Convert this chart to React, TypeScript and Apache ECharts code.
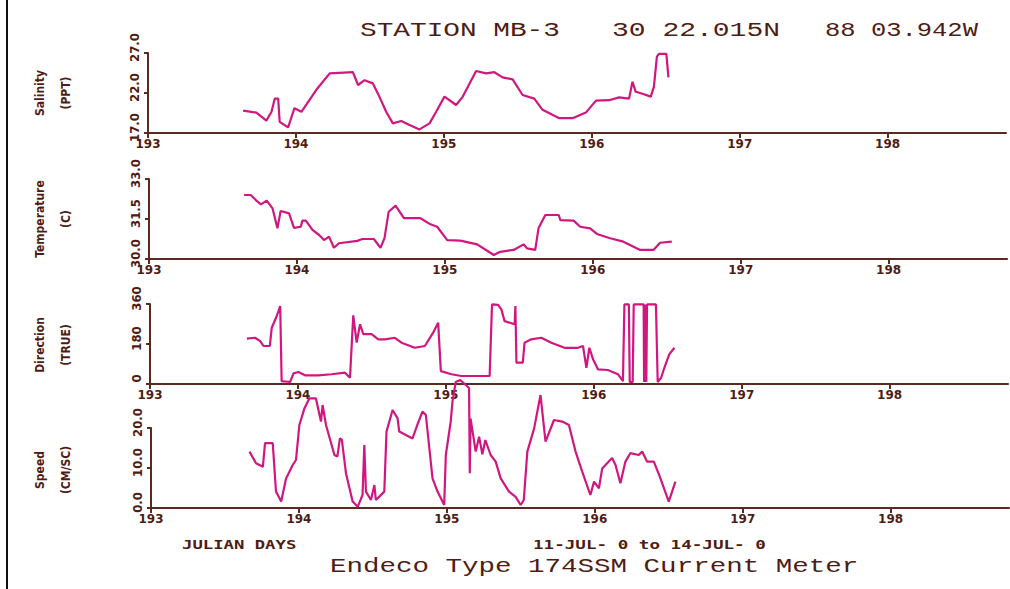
import React, { useEffect, useRef } from "react";
import * as echarts from "echarts";

// ---------- data ----------
const xTickValues = [193, 194, 195, 196, 197, 198];

const salinityTicks = [17, 22, 27];
const temperatureTicks = [30, 31.5, 33];
const directionTicks = [0, 180, 360];
const speedTicks = [0, 10, 20];

const salinityData: [number, number][] = [
  [193.643, 19.8], [193.733, 19.55], [193.8, 18.55], [193.835, 19.65], [193.857, 21.3],
  [193.88, 21.3], [193.89, 18.4], [193.947, 17.7], [193.99, 20.1], [194.037, 19.65],
  [194.138, 22.4], [194.228, 24.45], [194.385, 24.6], [194.42, 23.0], [194.464, 23.6],
  [194.52, 23.2], [194.554, 21.95], [194.61, 19.65], [194.655, 18.2], [194.712, 18.5],
  [194.768, 18.0], [194.835, 17.45], [194.903, 18.2], [194.948, 19.65], [195.004, 21.55],
  [195.083, 20.5], [195.128, 21.55], [195.218, 24.75], [195.286, 24.45], [195.341, 24.6],
  [195.397, 23.95], [195.465, 23.7], [195.532, 21.75], [195.611, 21.3], [195.667, 19.9],
  [195.78, 18.85], [195.87, 18.85], [195.96, 19.55], [196.028, 21.05], [196.117, 21.1],
  [196.185, 21.45], [196.252, 21.3], [196.275, 23.4], [196.297, 22.15], [196.342, 21.9],
  [196.399, 21.55], [196.42, 22.8], [196.44, 26.55], [196.455, 26.9], [196.504, 26.9],
  [196.518, 23.95],
];

const temperatureData: [number, number][] = [
  [193.643, 32.4], [193.688, 32.4], [193.722, 32.21], [193.756, 32.05], [193.796, 32.19],
  [193.835, 31.9], [193.868, 31.15], [193.89, 31.8], [193.947, 31.71], [193.98, 31.17],
  [194.026, 31.21], [194.037, 31.44], [194.06, 31.44], [194.105, 31.09], [194.15, 30.9],
  [194.183, 30.71], [194.217, 30.84], [194.25, 30.42], [194.284, 30.59], [194.408, 30.68],
  [194.442, 30.75], [194.52, 30.75], [194.565, 30.42], [194.592, 30.78], [194.62, 31.77],
  [194.667, 32.0], [194.723, 31.53], [194.835, 31.53], [194.903, 31.3], [194.948, 31.21],
  [195.016, 30.71], [195.105, 30.69], [195.218, 30.55], [195.286, 30.31], [195.33, 30.15],
  [195.375, 30.27], [195.465, 30.34], [195.532, 30.55], [195.555, 30.4], [195.611, 30.34],
  [195.633, 31.15], [195.679, 31.65], [195.77, 31.65], [195.78, 31.46], [195.87, 31.44],
  [195.915, 31.21], [195.982, 31.15], [196.028, 30.94], [196.117, 30.78], [196.207, 30.65],
  [196.32, 30.34], [196.41, 30.34], [196.455, 30.61], [196.534, 30.65],
];

const directionData: [number, number][] = [
  [193.655, 204], [193.71, 208], [193.745, 193], [193.767, 171], [193.81, 171],
  [193.823, 253], [193.857, 306], [193.88, 351], [193.89, 13], [193.947, 9],
  [193.97, 48], [194.003, 54], [194.048, 39], [194.138, 39], [194.228, 44],
  [194.318, 51], [194.352, 28], [194.374, 309], [194.397, 186], [194.42, 269],
  [194.442, 224], [194.498, 224], [194.543, 201], [194.588, 201], [194.655, 208],
  [194.7, 186], [194.79, 163], [194.858, 171], [194.914, 231], [194.948, 276],
  [194.966, 58], [195.038, 44], [195.105, 36], [195.195, 36], [195.296, 36],
  [195.312, 358], [195.353, 356], [195.375, 336], [195.397, 283], [195.465, 269],
  [195.47, 351], [195.477, 96], [195.52, 96], [195.532, 186], [195.577, 201],
  [195.645, 208], [195.713, 186], [195.802, 163], [195.893, 163], [195.927, 171],
  [195.95, 73], [195.97, 163], [195.995, 111], [196.028, 66], [196.095, 63],
  [196.163, 44], [196.197, 13], [196.207, 358], [196.237, 358], [196.243, 9],
  [196.263, 9], [196.27, 358], [196.337, 358], [196.34, 9], [196.35, 358],
  [196.355, 9], [196.36, 358], [196.42, 358], [196.432, 9], [196.455, 28],
  [196.477, 73], [196.51, 133], [196.545, 163],
];

const speedData: [number, number][] = [
  [193.666, 14.1], [193.71, 11.2], [193.756, 10.3], [193.771, 16.2], [193.823, 16.2],
  [193.845, 4.1], [193.88, 1.6], [193.913, 7.4], [193.958, 10.75], [193.98, 12.0],
  [194.003, 20.75], [194.037, 24.9], [194.07, 27.4], [194.115, 27.4], [194.149, 21.6],
  [194.16, 25.75], [194.183, 20.75], [194.24, 13.25], [194.26, 12.9], [194.277, 17.4],
  [194.29, 17.1], [194.318, 8.7], [194.363, 1.6], [194.397, 0.3], [194.43, 3.25],
  [194.442, 15.75], [194.453, 4.1], [194.487, 2.0], [194.51, 5.75], [194.52, 2.0],
  [194.577, 4.1], [194.592, 19.1], [194.633, 24.5], [194.667, 22.4], [194.678, 19.1],
  [194.723, 18.25], [194.768, 17.4], [194.8, 20.75], [194.835, 24.1], [194.858, 23.25],
  [194.903, 7.4], [194.937, 4.1], [194.982, 0.75], [194.993, 13.25], [195.026, 21.6],
  [195.038, 26.6], [195.06, 31.5], [195.09, 32.0], [195.128, 30.75], [195.15, 30.0],
  [195.155, 8.7], [195.16, 22.4], [195.195, 14.1], [195.218, 17.8], [195.24, 13.4],
  [195.26, 17.0], [195.296, 13.25], [195.33, 11.6], [195.364, 7.4], [195.42, 4.1],
  [195.465, 2.8], [195.499, 0.75], [195.52, 2.0], [195.544, 14.1], [195.59, 19.9],
  [195.633, 28.25], [195.667, 16.6], [195.724, 22.0], [195.78, 21.6], [195.825, 20.75],
  [195.87, 14.1], [195.915, 9.1], [195.97, 3.25], [195.995, 6.6], [196.028, 4.9],
  [196.05, 9.9], [196.117, 12.5], [196.14, 10.75], [196.173, 6.2], [196.207, 11.6],
  [196.24, 13.7], [196.297, 13.25], [196.32, 14.1], [196.353, 11.6], [196.399, 11.6],
  [196.44, 7.8], [196.5, 1.6], [196.545, 6.6],
];

// ---------- styles ----------
const LINE = "#d1177f";
const AXIS = "#5a2a1e";
const TEXT = "#4e1c14";
const MONO = "'DejaVu Sans Mono', monospace";
const THIN_MONO = "'Liberation Mono', 'DejaVu Sans Mono', monospace";
const NARROW = "'Liberation Sans Narrow', 'DejaVu Sans Condensed', sans-serif";

const panels = [
  { left: 148, top: 53, ticks: salinityTicks, min: 17, max: 27, fmt: (v: number) => v.toFixed(1), data: salinityData, names: ["Salinity", "(PPT)"], clip: true },
  { left: 149, top: 179, ticks: temperatureTicks, min: 30, max: 33, fmt: (v: number) => v.toFixed(1), data: temperatureData, names: ["Temperature", "(C)"], clip: true },
  { left: 150, top: 304, ticks: directionTicks, min: 0, max: 360, fmt: (v: number) => String(Math.round(v)), data: directionData, names: ["Direction", "(TRUE)"], clip: true },
  { left: 151, top: 428, ticks: speedTicks, min: 0, max: 20, fmt: (v: number) => v.toFixed(1), data: speedData, names: ["Speed", "(CM/SC)"], clip: false },
];

function stretched(text: string, left: number, right: number, cy: number, size: number, bold: boolean) {
  const natural = text.length * 0.6 * size;
  return {
    type: "text",
    x: left,
    y: cy,
    scaleX: (right - left) / natural,
    style: {
      text,
      fill: TEXT,
      font: bold ? `bold ${size}px ${MONO}` : `${size}px ${THIN_MONO}`,
      textAlign: "left",
      textVerticalAlign: "middle",
    },
  };
}

export default function App() {
  const ref = useRef<HTMLDivElement>(null);
  useEffect(() => {
    if (!ref.current) return;
    const chart = echarts.init(ref.current, undefined, { renderer: "svg" });
    const grids = panels.map((p) => ({ left: p.left, top: p.top, width: 858, height: 80 }));
    const xAxes = panels.map((p, i) => ({
      type: "value",
      gridIndex: i,
      min: 193,
      max: 198.8,
      axisLine: { show: true, onZero: false, lineStyle: { color: AXIS, width: 2 } },
      axisTick: { show: true, customValues: xTickValues, length: 5, lineStyle: { color: AXIS, width: 2 } },
      axisLabel: {
        customValues: xTickValues,
        margin: 5,
        color: TEXT,
        fontFamily: "'DejaVu Sans', sans-serif",
        fontWeight: "bold",
        fontSize: 12,
        formatter: (v: number) => String(Math.round(v)),
      },
      splitLine: { show: false },
    }));
    const yAxes = panels.map((p, i) => ({
      type: "value",
      gridIndex: i,
      min: p.min,
      max: p.max,
      axisLine: { show: true, onZero: false, lineStyle: { color: AXIS, width: 2 } },
      axisTick: { show: true, customValues: p.ticks, length: 4, lineStyle: { color: AXIS, width: 2 } },
      axisLabel: {
        customValues: p.ticks,
        rotate: 90,
        margin: 7,
        color: TEXT,
        fontFamily: NARROW,
        fontWeight: "bold",
        fontSize: 13,
        padding: [0, 0, 0, 11],
        formatter: p.fmt,
      },
      splitLine: { show: false },
    }));
    const series = panels.map((p, i) => ({
      type: "line",
      xAxisIndex: i,
      yAxisIndex: i,
      data: p.data,
      showSymbol: false,
      clip: p.clip,
      lineStyle: { color: LINE, width: 2.2 },
      itemStyle: { color: LINE },
    }));
    const nameCenters = [93, 219, 345, 470];
    const graphics: any[] = [
      { type: "line", shape: { x1: 7, y1: 0, x2: 7, y2: 589 }, style: { stroke: "#111", lineWidth: 2 } },
      stretched("STATION MB-3", 360, 560, 31, 20, false),
      stretched("30 22.015N", 612, 780, 31, 20, false),
      stretched("88 03.942W", 825, 978, 31, 20, false),
      stretched("JULIAN DAYS", 182, 296, 545, 12, true),
      stretched("11-JUL- 0 to 14-JUL- 0", 533, 765, 545, 12, true),
      stretched("Endeco Type 174SSM Current Meter", 330, 858, 566, 21, false),
    ];
    panels.forEach((p, i) => {
      p.names.forEach((n, j) => {
        graphics.push({
          type: "text",
          x: j === 0 ? 40 : 66,
          y: nameCenters[i],
          rotation: Math.PI / 2,
          style: {
            text: n,
            fill: TEXT,
            font: `bold 12px ${NARROW}`,
            textAlign: "center",
            textVerticalAlign: "middle",
          },
        });
      });
    });
    chart.setOption({
      animation: false,
      backgroundColor: "#ffffff",
      grid: grids,
      xAxis: xAxes,
      yAxis: yAxes,
      series,
      graphic: graphics,
    });
    return () => chart.dispose();
  }, []);
  return (
    <div
      ref={ref}
      style={{ position: "absolute", left: 0, top: 0, width: 1010, height: 589, background: "#fff" }}
    />
  );
}
